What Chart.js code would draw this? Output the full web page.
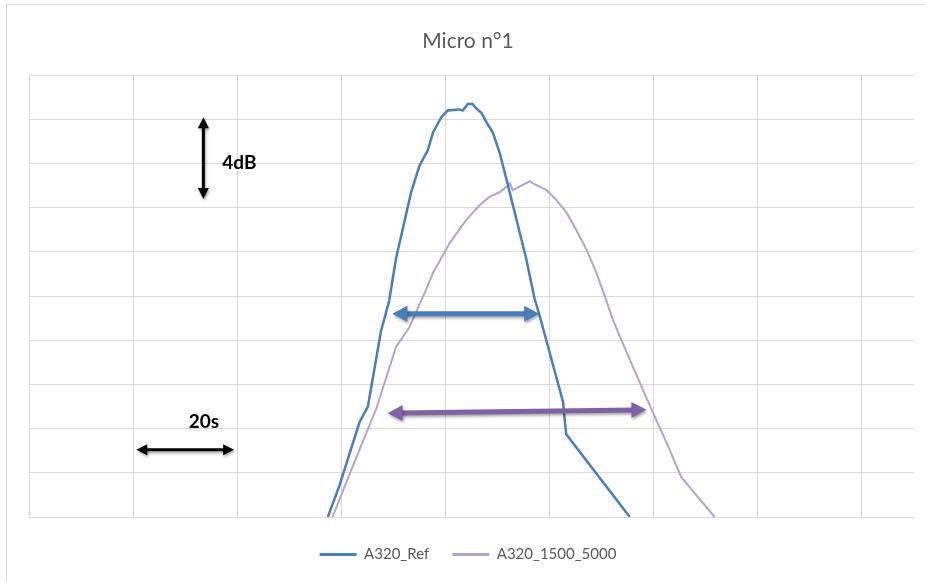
<!DOCTYPE html>
<html>
<head>
<meta charset="utf-8">
<title>Micro n°1</title>
<script src="https://cdn.jsdelivr.net/npm/chart.js@4.4.1/dist/chart.umd.min.js"></script>
<style>
    html, body { margin: 0; padding: 0; background: #fff; }
    #wrap { width: 925px; height: 581px; position: relative; }
</style>
</head>
<body>
<div id="wrap"><canvas id="micro-chart"></canvas></div>
<script>
// Values (time in s, level in dB, 20 s and 2 dB per grid cell)
const refTime = [57.4, 59.6, 63.5, 65.1, 67.6, 69.2, 70.5, 73.4, 75.0, 76.6, 77.6, 79.2, 80.4, 82.7, 83.3, 84.3, 85.2, 85.9, 86.9, 87.8, 89.1, 90.4, 91.7, 93.6, 95.5, 97.1, 98.1, 102.6, 102.9, 103.2, 115.4];
const refLevel = [70.0, 71.4, 74.3, 75.0, 78.4, 79.8, 81.7, 84.7, 85.9, 86.6, 87.4, 88.1, 88.4, 88.45, 88.4, 88.7, 88.7, 88.5, 88.3, 87.9, 87.4, 86.5, 85.3, 83.5, 81.7, 79.9, 79.1, 75.2, 74.4, 73.75, 70.0];

const modTime = [58.3, 61.5, 66.7, 70.5, 73.1, 76.3, 77.6, 80.8, 84.0, 86.5, 88.5, 90.4, 92.0, 92.4, 92.9, 94.2, 96.2, 96.8, 99.4, 101.3, 103.2, 105.1, 107.1, 109.0, 110.6, 112.2, 116.0, 119.9, 122.4, 125.3, 131.7];
const modLevel = [70.0, 71.9, 74.9, 77.7, 78.6, 80.3, 81.05, 82.4, 83.45, 84.1, 84.5, 84.7, 85.0, 85.1, 84.8, 84.95, 85.2, 85.1, 84.8, 84.35, 83.8, 83.0, 82.1, 81.05, 80.0, 78.9, 76.8, 74.7, 73.4, 71.8, 70.0];

const seriesNames = ['A320_Ref', 'A320_1500_5000'];
const timeRange = [0, 170];
const levelRange = [70, 90];

// Annotation arrows, in data units: [x1, y1, x2, y2]
const arrowLevel = [33.5, 88.1, 33.5, 84.4];
const arrowTime = [20.6, 73.05, 39.4, 73.05];
const arrowRefWidth = [69.8, 79.2, 98.0, 79.2];
const arrowModWidth = [68.9, 74.7, 118.6, 74.85];
const labelLevel = ['4dB', 40.4, 86.05];
const labelTime = ['20s', 33.6, 74.3];

const toPoints = (xs, ys) => xs.map((x, i) => ({ x: x, y: ys[i] }));

function drawDoubleArrow(ctx, p1, p2, color, width, headLen, headWidth, shadow) {
    const angle = Math.atan2(p2.y - p1.y, p2.x - p1.x);
    const cos = Math.cos(angle), sin = Math.sin(angle);
    ctx.save();
    if (shadow) {
        ctx.shadowColor = 'rgba(0,0,0,0.35)';
        ctx.shadowBlur = 3;
        ctx.shadowOffsetX = 1;
        ctx.shadowOffsetY = 2;
    }
    ctx.strokeStyle = color;
    ctx.fillStyle = color;
    ctx.lineWidth = width;
    ctx.beginPath();
    ctx.moveTo(p1.x + cos * headLen * 0.8, p1.y + sin * headLen * 0.8);
    ctx.lineTo(p2.x - cos * headLen * 0.8, p2.y - sin * headLen * 0.8);
    ctx.stroke();
    [[p1, 1], [p2, -1]].forEach(([p, dir]) => {
        const bx = p.x + dir * cos * headLen, by = p.y + dir * sin * headLen;
        ctx.beginPath();
        ctx.moveTo(p.x, p.y);
        ctx.lineTo(bx - sin * headWidth / 2, by + cos * headWidth / 2);
        ctx.lineTo(bx + sin * headWidth / 2, by - cos * headWidth / 2);
        ctx.closePath();
        ctx.fill();
    });
    ctx.restore();
}

const framePlugin = {
    id: 'frame',
    beforeDraw(chart) {
        const ctx = chart.ctx;
        ctx.save();
        ctx.fillStyle = '#fff';
        ctx.fillRect(0, 0, chart.width, chart.height);
        ctx.strokeStyle = '#d9d9d9';
        ctx.lineWidth = 1;
        ctx.strokeRect(6.5, 4.5, chart.width + 10, chart.height + 10);
        ctx.restore();
    }
};

const annotationPlugin = {
    id: 'arrows',
    afterDatasetsDraw(chart) {
        const ctx = chart.ctx;
        const xs = chart.scales.x, ys = chart.scales.y;
        const pt = (x, y) => ({ x: xs.getPixelForValue(x), y: ys.getPixelForValue(y) });
        const arrow = (a, color, w, hl, hw, sh) =>
            drawDoubleArrow(ctx, pt(a[0], a[1]), pt(a[2], a[3]), color, w, hl, hw, sh);

        arrow(arrowLevel, '#000', 3, 11, 11, true);
        arrow(arrowTime, '#000', 3, 11, 11, true);
        arrow(arrowRefWidth, '#4a7ebb', 5, 15, 16, true);
        arrow(arrowModWidth, '#7f62a4', 5, 15, 16, true);

        ctx.save();
        ctx.fillStyle = '#000';
        ctx.font = 'bold 19px Lato, "Liberation Sans", sans-serif';
        ctx.textAlign = 'center';
        ctx.textBaseline = 'middle';
        [labelLevel, labelTime].forEach(l => {
            const p = pt(l[1], l[2]);
            ctx.fillText(l[0], p.x, p.y);
        });
        ctx.restore();
    }
};

function initChart() {
    const ctx = document.getElementById('micro-chart').getContext('2d');
    new Chart(ctx, {
        type: 'line',
        data: {
            datasets: [{
                label: seriesNames[0],
                data: toPoints(refTime, refLevel),
                borderColor: '#4a7ebb',
                backgroundColor: '#4a7ebb',
                borderWidth: 2.5,
                pointRadius: 0,
                tension: 0
            }, {
                label: seriesNames[1],
                data: toPoints(modTime, modLevel),
                borderColor: '#b4a3cf',
                backgroundColor: '#b4a3cf',
                borderWidth: 2,
                pointRadius: 0,
                tension: 0
            }]
        },
        options: {
            responsive: true,
            maintainAspectRatio: false,
            animation: false,
            layout: { padding: { left: 22, right: 11, top: 0, bottom: 9 } },
            plugins: {
                title: {
                    display: true,
                    text: 'Micro n°1',
                    color: '#595959',
                    font: { family: 'Lato, "Open Sans", sans-serif', size: 21, weight: 'normal' },
                    padding: { top: 29, bottom: 21 }
                },
                legend: {
                    position: 'bottom',
                    maxHeight: 56,
                    labels: {
                        color: '#595959',
                        font: { family: 'Lato, "Open Sans", sans-serif', size: 15 },
                        boxWidth: 37,
                        boxHeight: 3,
                        padding: 23,
                        generateLabels: chart => chart.data.datasets.map((ds, i) => ({
                            text: ds.label,
                            fillStyle: ds.borderColor,
                            strokeStyle: ds.borderColor,
                            lineWidth: 0,
                            fontColor: '#595959',
                            hidden: false,
                            datasetIndex: i
                        }))
                    }
                },
                tooltip: { enabled: false }
            },
            scales: {
                x: {
                    type: 'linear',
                    min: timeRange[0],
                    max: timeRange[1],
                    ticks: { display: false, stepSize: 20 },
                    border: { display: false },
                    grid: {
                        drawTicks: false,
                        color: c => (c.tick && c.tick.value === timeRange[1]) ? 'rgba(0,0,0,0)' : '#d9d9d9'
                    },
                    afterFit: scale => { scale.height = 7; }
                },
                y: {
                    min: levelRange[0],
                    max: levelRange[1],
                    ticks: { display: false, stepSize: 2 },
                    border: { display: false },
                    grid: { drawTicks: false, color: '#d9d9d9' },
                    afterFit: scale => { scale.width = 7; }
                }
            }
        },
        plugins: [framePlugin, annotationPlugin]
    });
}

document.addEventListener('DOMContentLoaded', () => {
    initChart();
});
</script>
</body>
</html>
